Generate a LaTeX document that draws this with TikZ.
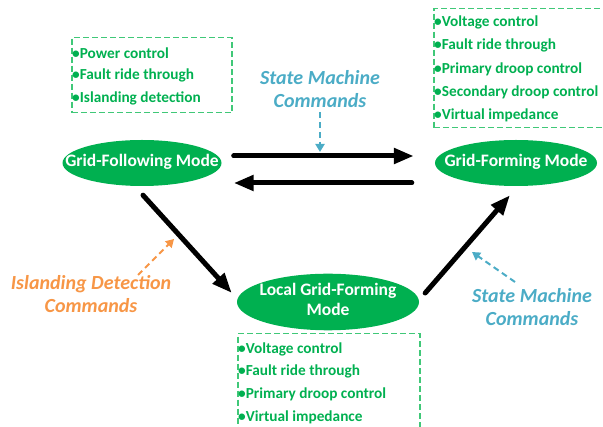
\documentclass[tikz,border=0pt]{standalone}
\usepackage{fontspec}
\setmainfont{Carlito}
\usetikzlibrary{arrows.meta,shapes.geometric}
\definecolor{mgreen}{HTML}{00B050}
\definecolor{lgreen}{HTML}{40C878}
\definecolor{mblue}{HTML}{4BACC6}
\definecolor{morange}{HTML}{F79646}
\newcommand{\modetxt}[1]{\makebox[0pt][c]{\begin{tabular}{@{}c@{}}#1\end{tabular}}}
\begin{document}
\begin{tikzpicture}[x=1pt,y=-1pt,
  mode/.style={ellipse, fill=mgreen, text=white, font=\bfseries\fontsize{17.5}{20}\selectfont, inner sep=0pt},
  gbox/.style={draw, color=lgreen, dash pattern=on 6pt off 3pt, line width=1.5pt, inner sep=0pt, anchor=north west},
  btext/.style={text=mgreen, font=\bfseries\fontsize{15.3}{17}\selectfont, anchor=west, inner sep=0pt},
  cmd/.style={font=\bfseries\itshape\fontsize{20}{23}\selectfont, align=center, inner sep=0pt},
  bigarrow/.style={line width=5pt, line cap=round, -{Triangle[length=20pt,width=15pt]}},
  dasharrow/.style={line width=2pt, dash pattern=on 6pt off 4pt, -{Triangle[length=8pt,width=9pt]}}
]
\useasboundingbox (0,0) rectangle (603,427);

% modes
\node[mode, minimum width=159pt, minimum height=46pt] (gfl) at (142,163) {\modetxt{Grid-Following Mode}};
\node[mode, minimum width=162pt, minimum height=46pt] (gfm) at (516,163) {\modetxt{Grid-Forming Mode}};
\node[mode, minimum width=182pt, minimum height=50pt] (loc) at (328,302) {\modetxt{Local Grid-Forming\\Mode}};

% boxes
\node[gbox, minimum width=160pt, minimum height=75pt] (box1) at (71,37) {};
\node[btext] (t11) at (72,53) {\textbullet Power control};
\node[btext] (t12) at (72,75) {\textbullet Fault ride through};
\node[btext] (t13) at (72,98) {\textbullet Islanding detection};

\node[gbox, minimum width=190pt, minimum height=119pt] (box2) at (433,8) {};
\node[btext] (t21) at (434,22) {\textbullet Voltage control};
\node[btext] (t22) at (434,45) {\textbullet Fault ride through};
\node[btext] (t23) at (434,69) {\textbullet Primary droop control};
\node[btext] (t24) at (434,92) {\textbullet Secondary droop control};
\node[btext] (t25) at (434,115) {\textbullet Virtual impedance};

\node[gbox, minimum width=182pt, minimum height=110pt] (box3) at (237,333) {};
\node[btext] (t31) at (238,349) {\textbullet Voltage control};
\node[btext] (t32) at (238,371) {\textbullet Fault ride through};
\node[btext] (t33) at (238,394) {\textbullet Primary droop control};
\node[btext] (t34) at (238,417) {\textbullet Virtual impedance};

% big arrows
\draw[bigarrow] ([xshift=12pt,yshift=7pt]gfl.east) -- ([xshift=-21pt,yshift=7pt]gfm.west);
\draw[bigarrow] ([xshift=-23pt,yshift=-20pt]gfm.west) -- ([xshift=12pt,yshift=-20pt]gfl.east);
\draw[bigarrow] ([xshift=1pt,yshift=-9pt]gfl.south) -- ([xshift=-5pt,yshift=9pt]loc.west);
\draw[bigarrow] ([xshift=6pt,yshift=9pt]loc.east) -- ([xshift=-6pt,yshift=-9pt]gfm.south);

% command labels
\node[cmd, text=mblue] (sm1) at (320,89) {State Machine\\Commands};
\node[cmd, text=morange] (isl) at (91,294) {Islanding Detection\\Commands};
\node[cmd, text=mblue] (sm2) at (532,307) {State Machine\\Commands};

\coordinate (a1s) at (320,112);
\coordinate (a1e) at (320,152);
\coordinate (a2s) at (138,275);
\coordinate (a2e) at (174,239);
\coordinate (a3s) at (515,282);
\coordinate (a3e) at (472,252);
\draw[dasharrow, mblue] (a1s) -- (a1e);
\draw[dasharrow, morange] (a2s) -- (a2e);
\draw[dasharrow, mblue] (a3s) -- (a3e);
\end{tikzpicture}
\end{document}
